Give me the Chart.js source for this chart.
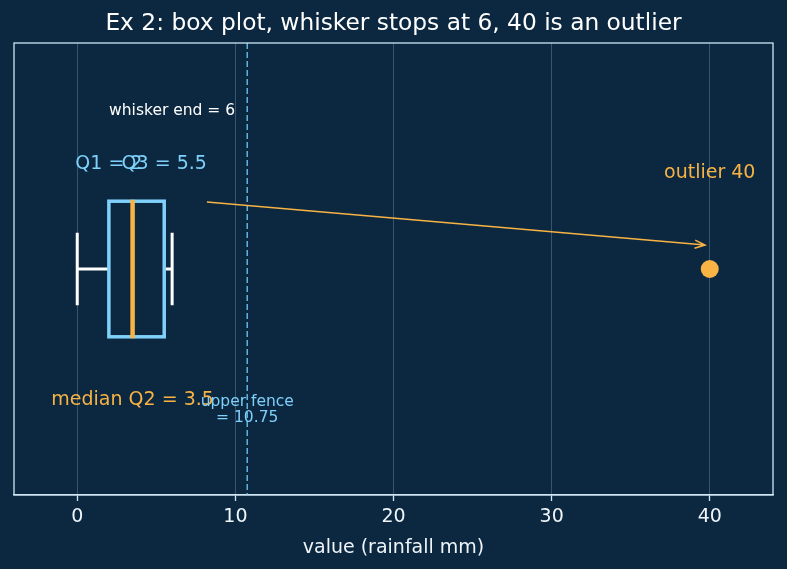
<!DOCTYPE html>
<html>
<head>
<meta charset="utf-8">
<script src="https://cdn.jsdelivr.net/npm/chart.js@4"></script>
<style>
  html, body { margin: 0; padding: 0; background: #0b2840; }
  #wrap { width: 787px; height: 569px; }
</style>
</head>
<body>
<div id="wrap"><canvas id="chart"></canvas></div>
<script>
"use strict";

// box plot stats (one box)
const whiskerLow = [0];
const q1 = [2];
const median = [3.5];
const q3 = [5.5];
const whiskerHigh = [6];
const outliers = [40];
const upperFence = [10.75];
const xTicks = [0, 10, 20, 30, 40];

const BG = "#0b2840";
const FRAME = "#cfe6f5";
const BOXC = "#7fd0fa";
const ORANGE = "#f8b344";
const FONT = "DejaVu Sans";

const font = (size) => `${size}px "${FONT}"`;

var boxPlugin = {
    id: "boxPlot",
    beforeDraw: (chart) => {
        const c = chart.ctx;
        c.save();
        c.fillStyle = BG;
        c.fillRect(0, 0, chart.width, chart.height);
        c.fillStyle = "#ffffff";
        c.font = font(23.3);
        c.textAlign = "center";
        c.textBaseline = "middle";
        c.fillText("Ex 2: box plot, whisker stops at 6, 40 is an outlier", chart.width / 2, 24);
        c.restore();
    },
    beforeDatasetsDraw: (chart) => {
        const c = chart.ctx;
        const xs = chart.scales.x, ys = chart.scales.y;
        const X = v => xs.getPixelForValue(v);
        const Y = v => ys.getPixelForValue(v);
        const area = chart.chartArea;
        c.save();

        // upper fence
        c.strokeStyle = "#62b2e0";
        c.lineWidth = 1.5;
        c.setLineDash([6, 3]);
        c.beginPath();
        c.moveTo(X(upperFence[0]), area.top);
        c.lineTo(X(upperFence[0]), area.bottom);
        c.stroke();
        c.setLineDash([]);

        const pos = 0.5, half = 0.15, capHalf = 0.08;
        for (let i = 0; i < q1.length; i++) {
            // whiskers
            c.strokeStyle = "#ffffff";
            c.lineWidth = 3;
            c.beginPath();
            c.moveTo(X(whiskerLow[i]), Y(pos)); c.lineTo(X(q1[i]), Y(pos));
            c.moveTo(X(q3[i]), Y(pos)); c.lineTo(X(whiskerHigh[i]), Y(pos));
            c.moveTo(X(whiskerLow[i]), Y(pos - capHalf)); c.lineTo(X(whiskerLow[i]), Y(pos + capHalf));
            c.moveTo(X(whiskerHigh[i]), Y(pos - capHalf)); c.lineTo(X(whiskerHigh[i]), Y(pos + capHalf));
            c.stroke();

            // box
            c.strokeStyle = BOXC;
            c.lineWidth = 3.5;
            c.strokeRect(X(q1[i]), Y(pos + half), X(q3[i]) - X(q1[i]), Y(pos - half) - Y(pos + half));

            // median
            c.strokeStyle = ORANGE;
            c.lineWidth = 4.5;
            c.beginPath();
            c.moveTo(X(median[i]), Y(pos + half) - 1.5);
            c.lineTo(X(median[i]), Y(pos - half) + 1.5);
            c.stroke();
        }

        // labels
        c.textAlign = "center";
        c.textBaseline = "middle";
        c.fillStyle = "#ffffff";
        c.font = font(15.5);
        c.fillText("whisker end = " + whiskerHigh[0], X(whiskerHigh[0]), Y(0.85));

        c.fillStyle = BOXC;
        c.font = font(19);
        c.fillText("Q1 = " + q1[0], X(q1[0]), Y(0.732));
        c.fillText("Q3 = " + q3[0], X(q3[0]), Y(0.732));

        c.fillStyle = ORANGE;
        c.fillText("median Q2 = " + median[0], X(median[0]), Y(0.21));
        c.fillText("outlier " + outliers[0], X(outliers[0]), Y(0.712));

        c.fillStyle = BOXC;
        c.font = font(15.5);
        c.fillText("upper fence", X(upperFence[0]), Y(0.205));
        c.fillText("= " + upperFence[0], X(upperFence[0]), Y(0.17));

        // arrow to outlier
        const x0 = X(8.2), y0 = Y(0.648), x1 = X(39.7), y1 = Y(0.553);
        c.strokeStyle = ORANGE;
        c.lineWidth = 1.5;
        c.beginPath();
        c.moveTo(x0, y0);
        c.lineTo(x1, y1);
        const ang = Math.atan2(y1 - y0, x1 - x0);
        const hl = 11, hw = 0.38;
        c.moveTo(x1 - hl * Math.cos(ang - hw), y1 - hl * Math.sin(ang - hw));
        c.lineTo(x1, y1);
        c.lineTo(x1 - hl * Math.cos(ang + hw), y1 - hl * Math.sin(ang + hw));
        c.stroke();
        c.restore();
    },
    afterDraw: (chart) => {
        const c = chart.ctx, a = chart.chartArea;
        c.save();
        c.strokeStyle = FRAME;
        c.lineWidth = 1.3;
        c.strokeRect(a.left, a.top, a.right - a.left, a.bottom - a.top);
        c.restore();
    }
};

var ctx = document.getElementById("chart").getContext("2d");
var myChart = new Chart(ctx, {
    type: "scatter",
    data: {
        datasets: [{
            data: outliers.map(v => ({ x: v, y: 0.5 })),
            pointRadius: 9,
            pointHoverRadius: 9,
            backgroundColor: ORANGE,
            borderWidth: 0
        }]
    },
    options: {
        responsive: true,
        maintainAspectRatio: false,
        animation: false,
        layout: { padding: { left: 14, right: 14, top: 43, bottom: 0 } },
        plugins: { legend: { display: false }, tooltip: { enabled: false }, title: { display: false } },
        scales: {
            x: {
                type: "linear",
                min: -4,
                max: 44,
                afterBuildTicks: (scale) => { scale.ticks = xTicks.map(v => ({ value: v })); },
                afterFit: (scale) => { scale.height = 74; },
                grid: { color: "rgba(140,170,195,0.35)", lineWidth: 1, tickColor: FRAME, tickLength: 6, tickWidth: 1.3 },
                border: { display: true, color: FRAME, width: 1.3 },
                ticks: { color: "#eef4f8", font: { family: FONT, size: 19 }, padding: 5, maxRotation: 0 },
                title: { display: true, text: "value (rainfall mm)", color: "#eef4f8", font: { family: FONT, size: 19 }, padding: { top: 0, bottom: 10 } }
            },
            y: { type: "linear", min: 0, max: 1, display: false }
        }
    },
    plugins: [boxPlugin]
});
</script>
</body>
</html>
